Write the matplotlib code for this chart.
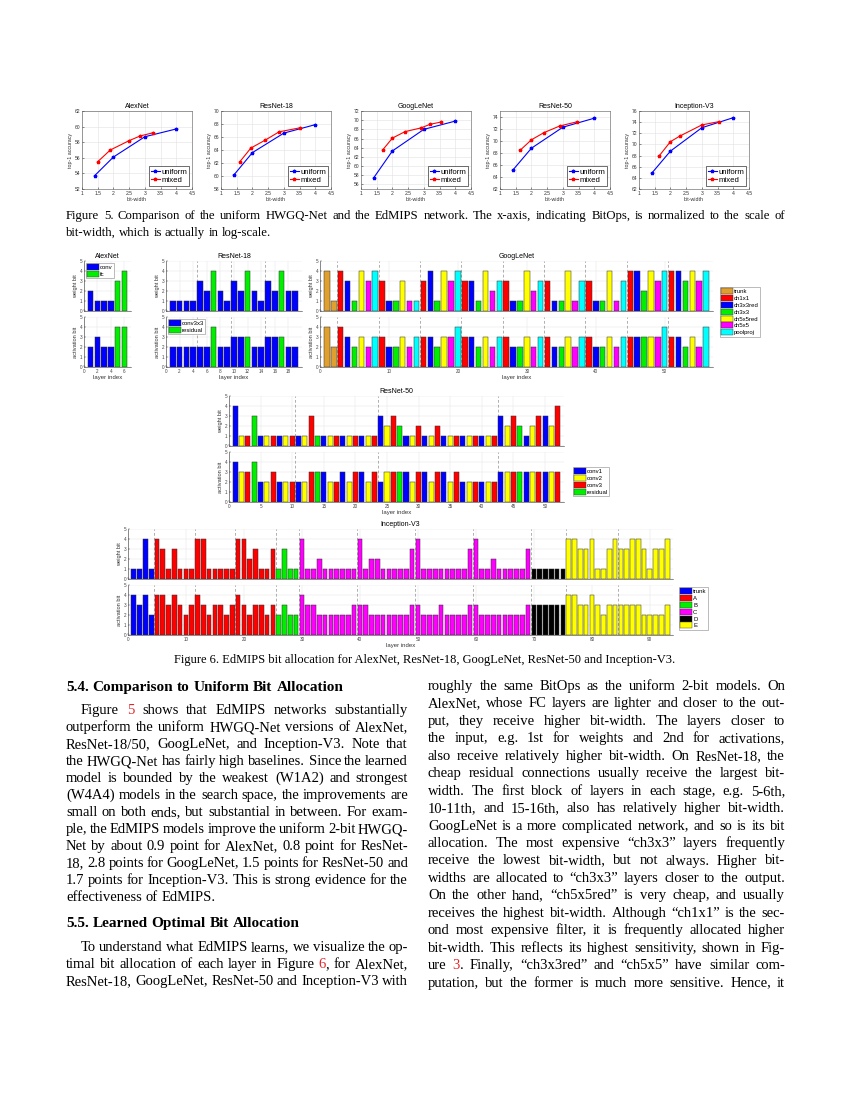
import re
import matplotlib
matplotlib.use('Agg')
import matplotlib.pyplot as plt
from matplotlib.patches import Patch

W, H = 850, 1100
plt.rcParams['font.family'] = ['Liberation Sans', 'DejaVu Sans']

# ---------------- Figure 5 : accuracy vs bit-width ----------------
f5_titles = ['AlexNet', 'ResNet-18', 'GoogLeNet', 'ResNet-50', 'Inception-V3']
f5_ylims = [(52, 62), (58, 70), (55, 72), (62, 75), (62, 76)]
f5_yticks = [range(52, 63, 2), range(58, 71, 2), range(56, 73, 2), range(62, 75, 2), range(62, 77, 2)]
f5_xticks = [1, 1.5, 2, 2.5, 3, 3.5, 4, 4.5]
f5_xticklabels = ['1', '1.5', '2', '2.5', '3', '3.5', '4', '4.5']

alex_uni_x = [1.4, 2, 3, 4]
alex_uni_y = [53.7, 56.1, 58.7, 59.7]
alex_mix_x = [1.5, 1.9, 2.5, 2.85, 3.25]
alex_mix_y = [55.5, 57.0, 58.2, 58.8, 59.2]

r18_uni_x = [1.4, 2, 3, 4]
r18_uni_y = [60.1, 63.6, 66.6, 67.9]
r18_mix_x = [1.6, 1.95, 2.4, 2.85, 3.5]
r18_mix_y = [62.2, 64.3, 65.5, 66.8, 67.4]

goog_uni_x = [1.4, 2, 3, 4]
goog_uni_y = [57.4, 63.3, 68.0, 69.8]
goog_mix_x = [1.7, 2, 2.4, 2.9, 3.2, 3.55]
goog_mix_y = [63.6, 66.1, 67.5, 68.3, 69.1, 69.6]

r50_uni_x = [1.4, 2, 3, 4]
r50_uni_y = [65.1, 68.8, 72.3, 73.8]
r50_mix_x = [1.65, 2, 2.4, 2.9, 3.45]
r50_mix_y = [68.5, 70.2, 71.4, 72.5, 73.2]

incep_uni_x = [1.4, 2, 3, 4]
incep_uni_y = [64.8, 68.8, 73.0, 74.8]
incep_mix_x = [1.65, 2, 2.3, 3, 3.55]
incep_mix_y = [68.0, 70.5, 71.5, 73.5, 74.1]

# ---------------- Figure 6 : bit allocation ----------------
alex_w = [2, 1, 1, 1, 3, 4]
alex_a = [2, 3, 2, 2, 4, 4]
alex_type = ['conv', 'conv', 'conv', 'conv', 'fc', 'fc']

r18_w = [1, 1, 1, 1, 3, 2, 4, 2, 1, 3, 2, 4, 2, 1, 3, 2, 4, 2, 2]
r18_a = [2, 2, 2, 2, 2, 2, 4, 2, 2, 3, 3, 3, 2, 2, 3, 3, 3, 2, 2]
r18_type = ['conv3x3'] * 6 + ['residual'] + ['conv3x3'] * 4 + ['residual'] + ['conv3x3'] * 4 + ['residual'] + ['conv3x3'] * 2
r18_seps = [4.5, 9.5, 14.5]

goog_w = [4, 1,
          4, 3, 1, 4, 3, 4,
          3, 1, 1, 3, 1, 1,
          3, 4, 1, 4, 3, 4,
          3, 3, 1, 4, 2, 3,
          3, 1, 1, 4, 2, 3,
          3, 1, 1, 4, 1, 3,
          3, 1, 1, 4, 1, 3,
          4, 4, 2, 4, 3, 4,
          4, 4, 3, 4, 3, 4]
goog_a = [4, 2,
          4, 3, 2, 3, 2, 3,
          3, 2, 2, 3, 2, 3,
          3, 3, 2, 3, 3, 4,
          3, 3, 2, 3, 2, 3,
          3, 2, 2, 3, 2, 3,
          3, 2, 2, 3, 2, 3,
          3, 2, 2, 3, 2, 3,
          3, 3, 3, 3, 3, 4,
          3, 3, 2, 3, 2, 4]
goog_module = ['ch1x1', 'ch3x3red', 'ch3x3', 'ch5x5red', 'ch5x5', 'poolproj']
goog_type = ['trunk', 'trunk'] + goog_module * 9
goog_seps = [2.5, 8.5, 14.5, 20.5, 26.5, 32.5, 38.5, 44.5, 50.5]

r50_w = [4, 1, 1, 3, 1, 1, 1, 1, 1, 1,
         1, 1, 3, 1, 1, 1, 1, 1, 1, 1, 1, 1, 1,
         3, 2, 3, 2, 1, 1, 2, 1, 1, 2, 1, 1, 1, 1, 1, 1, 1, 1, 1,
         3, 2, 3, 2, 1, 2, 3, 3, 2, 4]
r50_a = [4, 3, 3, 4, 2, 2, 3, 2, 2, 2,
         2, 2, 3, 3, 3, 2, 2, 3, 2, 3, 3, 2, 3,
         2, 3, 3, 3, 3, 2, 3, 3, 2, 3, 3, 2, 3, 2, 2, 2, 2, 2, 2,
         3, 3, 3, 3, 3, 3, 3, 3, 3, 3]
r50_blocks = [3, 4, 6, 3]
r50_type = []
for nb in r50_blocks:
    r50_type += ['conv1', 'conv2', 'conv3', 'residual'] + ['conv1', 'conv2', 'conv3'] * (nb - 1)
r50_seps = [10.5, 23.5, 42.5]

incep_w = [1, 1, 4, 1,
           4, 3, 1, 3, 1, 1, 1, 4, 4, 1, 1, 1, 1, 1, 4, 4, 2, 3, 1, 1, 3,
           1, 3, 1, 1,
           4, 1, 1, 2, 1, 1, 1, 1, 1, 1,
           4, 1, 2, 2, 1, 1, 1, 1, 1, 3,
           4, 1, 1, 1, 1, 1, 1, 1, 1, 3,
           4, 1, 1, 2, 1, 1, 1, 1, 1, 3,
           1, 1, 1, 1, 1, 1,
           4, 4, 3, 3, 4, 1, 1, 3, 4, 3, 3, 4, 4, 3, 1, 3, 3, 4]
incep_a = [4, 3, 4, 2,
           4, 4, 3, 4, 3, 2, 3, 4, 3, 2, 3, 3, 2, 3, 4, 3, 2, 3, 3, 2, 3,
           2, 3, 2, 2,
           4, 3, 3, 2, 2, 2, 2, 2, 2, 3,
           3, 3, 2, 2, 2, 2, 2, 2, 2, 3,
           3, 2, 2, 2, 3, 2, 2, 2, 2, 3,
           3, 2, 2, 2, 2, 2, 2, 2, 2, 3,
           3, 3, 3, 3, 3, 3,
           4, 4, 3, 3, 4, 3, 2, 3, 3, 3, 3, 3, 3, 2, 2, 2, 2, 3]
incep_groups = [('trunk', 4), ('A', 21), ('B', 4), ('C', 40), ('D', 6), ('E', 18)]
incep_type = [g for g, n in incep_groups for _ in range(n)]
incep_seps = [4.5, 11.5, 18.5, 25.5, 29.5, 39.5, 49.5, 59.5, 69.5, 75.5, 84.5]

BLUE, RED, GREEN = '#0000ff', '#ff0000', '#00ee00'
YELLOW, MAGENTA, CYAN = '#ffff00', '#ff00ff', '#00ffff'
alex_colors = {'conv': BLUE, 'fc': GREEN}
r18_colors = {'conv3x3': BLUE, 'residual': GREEN}
goog_colors = {'trunk': '#e0a030', 'ch1x1': RED, 'ch3x3red': BLUE, 'ch3x3': GREEN,
               'ch5x5red': YELLOW, 'ch5x5': MAGENTA, 'poolproj': CYAN}
r50_colors = {'conv1': BLUE, 'conv2': YELLOW, 'conv3': RED, 'residual': GREEN}
incep_colors = {'trunk': BLUE, 'A': RED, 'B': GREEN, 'C': MAGENTA, 'D': '#000000', 'E': YELLOW}

# ---------------- page text ----------------
cap5 = ['Figure 5. Comparison of the uniform HWGQ-Net and the EdMIPS network. The x-axis, indicating BitOps, is normalized to the scale of',
        'bit-width, which is actually in log-scale.']
cap6 = 'Figure 6. EdMIPS bit allocation for AlexNet, ResNet-18, GoogLeNet, ResNet-50 and Inception-V3.'
head54 = '5.4. Comparison to Uniform Bit Allocation'
para54 = ['Figure {5} shows that EdMIPS networks substantially',
          'outperform the uniform HWGQ-Net versions of AlexNet,',
          'ResNet-18/50, GoogLeNet, and Inception-V3.  Note that',
          'the HWGQ-Net has fairly high baselines. Since the learned',
          'model is bounded by the weakest (W1A2) and strongest',
          '(W4A4) models in the search space, the improvements are',
          'small on both ends, but substantial in between. For exam-',
          'ple, the EdMIPS models improve the uniform 2-bit HWGQ-',
          'Net by about 0.9 point for AlexNet, 0.8 point for ResNet-',
          '18, 2.8 points for GoogLeNet, 1.5 points for ResNet-50 and',
          '1.7 points for Inception-V3. This is strong evidence for the',
          'effectiveness of EdMIPS.']
head55 = '5.5. Learned Optimal Bit Allocation'
para55 = ['To understand what EdMIPS learns, we visualize the op-',
          'timal bit allocation of each layer in Figure {6}, for AlexNet,',
          'ResNet-18, GoogLeNet, ResNet-50 and Inception-V3 with']
right_col = ['roughly the same BitOps as the uniform 2-bit models. On',
             'AlexNet, whose FC layers are lighter and closer to the out-',
             'put, they receive higher bit-width.  The layers closer to',
             'the input, e.g.  1st for weights and 2nd for activations,',
             'also receive relatively higher bit-width. On ResNet-18, the',
             'cheap residual connections usually receive the largest bit-',
             'width. The first block of layers in each stage, e.g. 5-6th,',
             '10-11th, and 15-16th, also has relatively higher bit-width.',
             'GoogLeNet is a more complicated network, and so is its bit',
             'allocation. The most expensive \u201cch3x3\u201d layers frequently',
             'receive the lowest bit-width, but not always.  Higher bit-',
             'widths are allocated to \u201cch3x3\u201d layers closer to the output.',
             'On the other hand, \u201cch5x5red\u201d is very cheap, and usually',
             'receives the highest bit-width. Although \u201cch1x1\u201d is the sec-',
             'ond most expensive filter, it is frequently allocated higher',
             'bit-width. This reflects its highest sensitivity, shown in Fig-',
             'ure {3}.  Finally, \u201cch3x3red\u201d and \u201cch5x5\u201d have similar com-',
             'putation, but the former is much more sensitive. Hence, it']

fig = plt.figure(figsize=(8.5, 11), dpi=100)
renderer = fig.canvas.get_renderer()
LINK = '#e0262b'
SERIF = 'Liberation Serif'
BODY = 10.5


def ax_px(l, t, r, b):
    return fig.add_axes([l / W, 1 - b / H, (r - l) / W, (b - t) / H])


def put_line(x0, x1, y, line, size, justify=True, weight='normal', indent=0):
    # one line of text; words are spread over x0..x1 when justified
    words = []
    for tok in line.split():
        parts = []
        for p in re.split(r'(\{[^}]*\})', tok):
            if not p:
                continue
            red = p.startswith('{')
            t = fig.text(0, 0, p.strip('{}'), fontsize=size, family=SERIF, weight=weight,
                         color=LINK if red else 'black', va='baseline', ha='left')
            parts.append(t)
        words.append(parts)
    x0 = x0 + indent

    def measure():
        return [[t.get_window_extent(renderer).width for t in parts] for parts in words]

    wid = measure()
    total = sum(sum(w) for w in wid)
    min_gap = 2.2
    if justify and total + min_gap * (len(words) - 1) > x1 - x0:
        # line too long: shrink it a little so it still fits
        f = (x1 - x0 - min_gap * (len(words) - 1)) / total
        for parts in words:
            for t in parts:
                t.set_fontsize(size * f)
        wid = measure()
        total = sum(sum(w) for w in wid)
    space = size * 0.25 * 100 / 72
    if justify and len(words) > 1:
        space = (x1 - x0 - total) / (len(words) - 1)
    x = x0
    for parts, ws in zip(words, wid):
        for t, wpx in zip(parts, ws):
            t.set_position((x / W, 1 - y / H))
            x += wpx
        x += space


# ---- Figure 5 panels ----
f5_left = [82, 221, 361, 500, 639]
f5_data = [(alex_uni_x, alex_uni_y, alex_mix_x, alex_mix_y),
           (r18_uni_x, r18_uni_y, r18_mix_x, r18_mix_y),
           (goog_uni_x, goog_uni_y, goog_mix_x, goog_mix_y),
           (r50_uni_x, r50_uni_y, r50_mix_x, r50_mix_y),
           (incep_uni_x, incep_uni_y, incep_mix_x, incep_mix_y)]
for i, (ux, uy, mx, my) in enumerate(f5_data):
    ax = ax_px(f5_left[i], 111, f5_left[i] + 110, 189)
    ax.plot(ux, uy, '-', marker='*', color='#0000ff', lw=0.8, ms=2.5, label='uniform')
    ax.plot(mx, my, '-', marker='*', color='#ff0000', lw=0.8, ms=2.5, label='mixed')
    ax.set_xlim(1, 4.5)
    ax.set_ylim(*f5_ylims[i])
    ax.set_xticks(f5_xticks)
    ax.set_xticklabels(f5_xticklabels)
    ax.set_yticks(list(f5_yticks[i]))
    ax.grid(True, color='#e2e2e2', lw=0.4)
    ax.set_axisbelow(True)
    ax.tick_params(labelsize=3.6, length=1.5, width=0.4, direction='in', pad=1.5, colors='#333333')
    for s in ax.spines.values():
        s.set_linewidth(0.4)
        s.set_color('#555555')
    ax.set_title(f5_titles[i], fontsize=5, pad=2.5)
    ax.set_xlabel('bit-width', fontsize=3.8, labelpad=1, color='#333333')
    ax.set_ylabel('top-1 accuracy', fontsize=3.8, labelpad=1, color='#333333')
    leg = ax.legend(loc='lower right', fontsize=5.6, handlelength=1.2, borderpad=0.25,
                    labelspacing=0.1, handletextpad=0.15, borderaxespad=0.4, fancybox=False,
                    framealpha=1)
    leg.get_frame().set_edgecolor('black')
    leg.get_frame().set_linewidth(0.4)

for k, line in enumerate(cap5):
    put_line(66, 785, 219 + 17 * k, line, 9.2, justify=(k == 0))


# ---- Figure 6 panels ----
def bar_panel(ax, vals, types, cmap, seps, xmax, xticks, ylabel, show_x):
    xs = list(range(1, len(vals) + 1))
    ax.bar(xs, vals, width=0.8, color=[cmap[t] for t in types], edgecolor='#303030',
           linewidth=0.35, zorder=3)
    for s in seps:
        ax.axvline(s, color='#8f8f8f', ls=(0, (4, 3)), lw=0.5, zorder=2)
    ax.set_xlim(0, xmax)
    ax.set_ylim(0, 5)
    ax.set_yticks(range(6))
    ax.set_xticks(xticks)
    ax.grid(True, color='#e4e4e4', lw=0.35)
    ax.set_axisbelow(True)
    ax.tick_params(labelsize=3.3, length=1.2, width=0.3, direction='in', pad=1.2, colors='#444444')
    if not show_x:
        ax.set_xticklabels([])
    else:
        ax.set_xlabel('layer index', fontsize=4.3, labelpad=0.8, color='#333333')
    ax.set_ylabel(ylabel, fontsize=4.1, labelpad=1, color='#333333')
    ax.spines['top'].set_visible(False)
    ax.spines['right'].set_visible(False)
    for s in ('left', 'bottom'):
        ax.spines[s].set_linewidth(0.4)
        ax.spines[s].set_color('#333333')


def small_legend(owner, labels, cmap, **kw):
    hs = [Patch(facecolor=cmap[l], edgecolor='#303030', linewidth=0.3, label=l) for l in labels]
    leg = owner.legend(handles=hs, fontsize=4.3, handlelength=2.0, handleheight=1.2,
                       borderpad=0.2, labelspacing=0.12, handletextpad=0.15, fancybox=False,
                       framealpha=1, **kw)
    leg.get_frame().set_edgecolor('#888888')
    leg.get_frame().set_linewidth(0.4)
    return leg


def net_panels(l, r, t, vals_w, vals_a, types, cmap, seps, xmax, xticks, title):
    aw = ax_px(l, t, r, t + 50)
    aa = ax_px(l, t + 56, r, t + 106)
    bar_panel(aw, vals_w, types, cmap, seps, xmax, xticks, 'weight bit', False)
    bar_panel(aa, vals_a, types, cmap, seps, xmax, xticks, 'activation bit', True)
    aw.set_title(title, fontsize=5, pad=2.5)
    return aw, aa


aw, aa = net_panels(84, 131, 261, alex_w, alex_a, alex_type, alex_colors, [], 7, [0, 2, 4, 6], 'AlexNet')
small_legend(aw, ['conv', 'fc'], alex_colors, loc='upper left', borderaxespad=0.3)

aw, aa = net_panels(166, 302, 261, r18_w, r18_a, r18_type, r18_colors, r18_seps, 20,
                    list(range(0, 19, 2)), 'ResNet-18')
small_legend(aa, ['conv3x3', 'residual'], r18_colors, loc='upper left', borderaxespad=0.3)

aw, aa = net_panels(320, 713, 261, goog_w, goog_a, goog_type, goog_colors, goog_seps, 57,
                    [0, 10, 20, 30, 40, 50], 'GoogLeNet')
small_legend(fig, ['trunk', 'ch1x1', 'ch3x3red', 'ch3x3', 'ch5x5red', 'ch5x5', 'poolproj'],
             goog_colors, loc='upper left', bbox_to_anchor=(717 / W, 1 - 284 / H))

aw, aa = net_panels(229, 564, 396, r50_w, r50_a, r50_type, r50_colors, r50_seps, 53,
                    list(range(0, 51, 5)), 'ResNet-50')
small_legend(fig, ['conv1', 'conv2', 'conv3', 'residual'], r50_colors, loc='upper left',
             bbox_to_anchor=(570 / W, 1 - 464 / H))

aw, aa = net_panels(128, 673, 529, incep_w, incep_a, incep_type, incep_colors, incep_seps, 94,
                    list(range(0, 91, 10)), 'Inception-V3')
small_legend(fig, ['trunk', 'A', 'B', 'C', 'D', 'E'], incep_colors, loc='upper left',
             bbox_to_anchor=(676 / W, 1 - 584 / H))

fig.text(425 / W, 1 - 663 / H, cap6, fontsize=9, family=SERIF, ha='center', va='baseline')

# ---- body text ----
put_line(66, 408, 691, head54, 11, justify=False, weight='bold')
for k, line in enumerate(para54):
    put_line(66, 408, 714 + 17 * k, line, BODY, justify=(k < len(para54) - 1), indent=(15 if k == 0 else 0))
put_line(66, 408, 927, head55, 11, justify=False, weight='bold')
for k, line in enumerate(para55):
    put_line(66, 408, 951 + 17 * k, line, BODY, justify=True, indent=(15 if k == 0 else 0))
for k, line in enumerate(right_col):
    put_line(428, 785, 690 + 17.45 * k, line, BODY, justify=True)

fig.savefig('out.png', dpi=100)
